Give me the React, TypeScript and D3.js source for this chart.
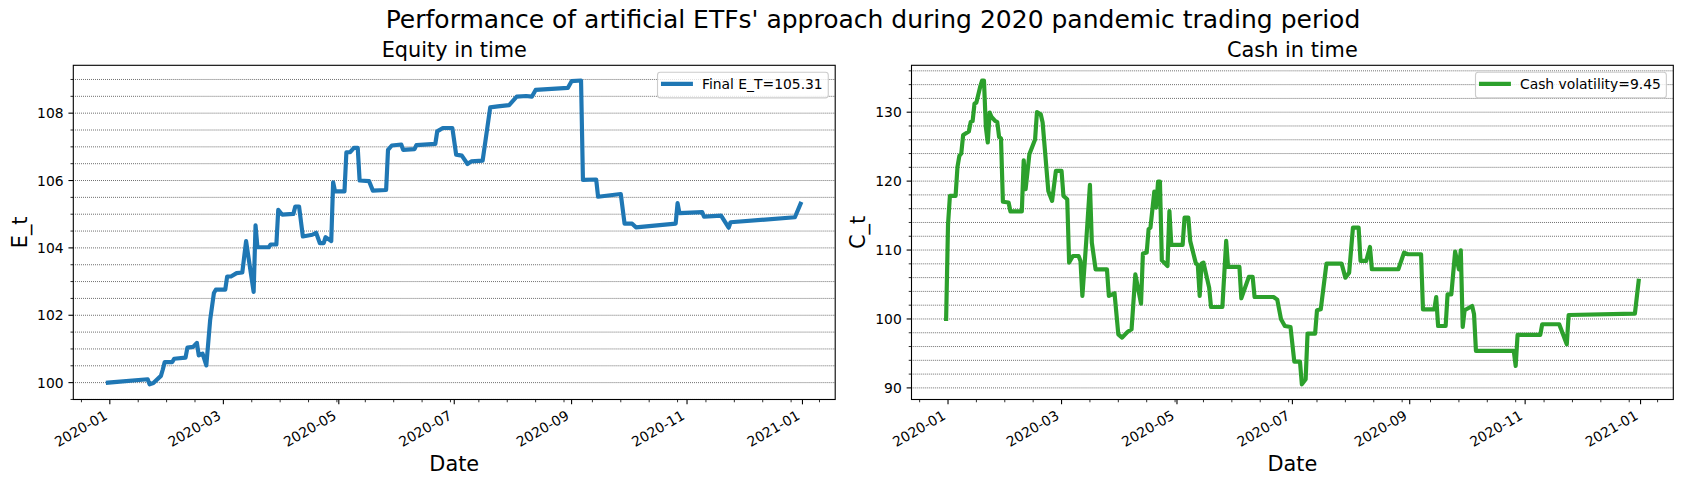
import React from 'react';
import * as d3 from 'd3';

// ---------- data ----------
const equityDates = [
  "2019-12-31","2020-01-21","2020-01-22","2020-01-24","2020-01-28","2020-01-29","2020-01-30","2020-02-03",
  "2020-02-04","2020-02-10","2020-02-11","2020-02-14","2020-02-16","2020-02-17","2020-02-19","2020-02-21",
  "2020-02-23","2020-02-25","2020-02-26","2020-03-02","2020-03-03","2020-03-05","2020-03-08","2020-03-11",
  "2020-03-13","2020-03-17","2020-03-18","2020-03-19","2020-03-25","2020-03-26","2020-03-29","2020-03-30",
  "2020-04-01","2020-04-07","2020-04-08","2020-04-10","2020-04-12","2020-04-17","2020-04-19","2020-04-21",
  "2020-04-23","2020-04-24","2020-04-27","2020-04-28","2020-04-29","2020-05-04","2020-05-05","2020-05-07",
  "2020-05-09","2020-05-11","2020-05-12","2020-05-17","2020-05-19","2020-05-26","2020-05-27","2020-05-29",
  "2020-06-03","2020-06-04","2020-06-10","2020-06-11","2020-06-21","2020-06-22","2020-06-25","2020-06-30",
  "2020-07-02","2020-07-05","2020-07-08","2020-07-10","2020-07-16","2020-07-20","2020-07-24","2020-07-30",
  "2020-08-03","2020-08-08","2020-08-11","2020-08-13","2020-08-30","2020-09-01","2020-09-06","2020-09-07",
  "2020-09-14","2020-09-15","2020-09-27","2020-09-29","2020-10-03","2020-10-05","2020-10-26","2020-10-27",
  "2020-10-28","2020-11-09","2020-11-10","2020-11-19","2020-11-23","2020-11-24","2020-12-28","2020-12-31"
];
const equityValues = [
  100.00,100.10,99.95,99.99,100.20,100.39,100.61,100.61,
  100.71,100.74,101.04,101.06,101.18,100.81,100.86,100.51,
  101.85,102.66,102.76,102.76,103.15,103.15,103.25,103.27,
  104.20,102.69,104.67,104.02,104.02,104.10,104.10,105.13,
  104.99,105.01,105.23,105.23,104.34,104.39,104.45,104.14,
  104.14,104.32,104.20,105.95,105.68,105.68,106.84,106.84,
  106.97,106.97,106.00,105.98,105.70,105.72,106.91,107.04,
  107.07,106.91,106.93,107.05,107.09,107.46,107.56,107.56,
  106.77,106.74,106.49,106.57,106.59,108.17,108.20,108.24,
  108.49,108.51,108.49,108.69,108.75,108.95,108.97,106.02,
  106.03,105.52,105.60,104.72,104.72,104.61,104.72,105.33,
  105.03,105.06,104.93,104.96,104.60,104.76,104.91,105.31
];

const cashDates = [
  "2019-12-31","2020-01-01","2020-01-02","2020-01-05","2020-01-06","2020-01-07","2020-01-08","2020-01-09",
  "2020-01-12","2020-01-13","2020-01-14","2020-01-15","2020-01-16","2020-01-18","2020-01-19","2020-01-20",
  "2020-01-21","2020-01-22","2020-01-23","2020-01-24","2020-01-26","2020-01-27","2020-01-28","2020-01-29",
  "2020-01-30","2020-02-02","2020-02-03","2020-02-09","2020-02-10","2020-02-11","2020-02-13","2020-02-16",
  "2020-02-17","2020-02-19","2020-02-20","2020-02-23","2020-02-25","2020-02-27","2020-03-01","2020-03-02",
  "2020-03-04","2020-03-05","2020-03-07","2020-03-10","2020-03-11","2020-03-12","2020-03-14","2020-03-16",
  "2020-03-17","2020-03-19","2020-03-25","2020-03-26","2020-03-29","2020-03-31","2020-04-02","2020-04-05",
  "2020-04-07","2020-04-09","2020-04-12","2020-04-13","2020-04-15","2020-04-16","2020-04-17","2020-04-19",
  "2020-04-20","2020-04-21","2020-04-22","2020-04-23","2020-04-26","2020-04-27","2020-04-28","2020-05-04",
  "2020-05-05","2020-05-07","2020-05-08","2020-05-11","2020-05-12","2020-05-13","2020-05-14","2020-05-15",
  "2020-05-18","2020-05-19","2020-05-25","2020-05-27","2020-05-28","2020-06-03","2020-06-04","2020-06-08",
  "2020-06-10","2020-06-11","2020-06-21","2020-06-23","2020-06-25","2020-06-27","2020-06-30","2020-07-02",
  "2020-07-05","2020-07-06","2020-07-08","2020-07-09","2020-07-13","2020-07-14","2020-07-16","2020-07-19",
  "2020-07-27","2020-07-29","2020-07-31","2020-08-02","2020-08-05","2020-08-06","2020-08-09","2020-08-11",
  "2020-08-12","2020-08-26","2020-08-29","2020-08-31","2020-09-07","2020-09-08","2020-09-14","2020-09-15",
  "2020-09-16","2020-09-20","2020-09-21","2020-09-23","2020-09-25","2020-09-27","2020-09-28","2020-09-29",
  "2020-09-30","2020-10-04","2020-10-05","2020-10-06","2020-10-26","2020-10-27","2020-10-28","2020-11-09",
  "2020-11-10","2020-11-19","2020-11-23","2020-11-24","2020-12-29","2020-12-31"
];
const cashValues = [
  100.00,113.70,117.85,117.85,122.06,123.66,124.00,126.70,
  127.20,128.60,128.70,131.25,131.40,133.70,134.60,134.60,
  127.80,125.60,129.95,129.30,128.70,128.60,126.40,126.20,
  117.00,116.90,115.60,115.60,123.03,118.82,123.90,126.03,
  130.00,129.70,128.50,118.58,117.13,121.48,121.48,117.85,
  117.37,108.18,109.14,109.14,108.42,103.34,111.08,119.45,
  111.08,107.20,107.20,103.34,103.73,97.77,97.29,98.16,
  98.50,106.48,102.23,109.48,109.63,113.00,113.26,118.48,
  116.16,119.93,119.93,108.50,107.69,115.67,110.74,110.74,
  114.71,114.71,111.32,108.03,107.90,103.34,108.03,108.18,
  104.55,101.74,101.74,111.32,107.55,107.55,103.00,106.10,
  106.10,103.19,103.19,102.80,99.95,98.98,98.84,93.81,
  93.81,90.52,91.24,97.87,97.87,101.26,101.40,108.03,
  108.03,106.00,106.72,113.26,113.26,108.42,108.42,110.45,
  107.21,107.21,109.63,109.39,109.39,101.40,101.40,103.19,
  98.98,98.98,103.58,103.58,109.77,107.21,109.97,98.84,
  101.26,101.89,100.68,95.36,95.36,93.18,97.68,97.68,
  99.23,99.23,96.32,100.58,100.77,105.52
];

const xTickLabels = ["2020-01","2020-03","2020-05","2020-07","2020-09","2020-11","2021-01"];
const equityYTicks = [100, 102, 104, 106, 108];
const cashYTicks = [90, 100, 110, 120, 130];

// ---------- layout ----------
const W = 1682, H = 486;
const FONT = '"DejaVu Sans", sans-serif';
const FS_TICK = 13.89, FS_LABEL = 20.83, FS_SUP = 25;
const Y0 = 65.3, Y1 = 399.5;
const MAJ = 4.86, MIN = 2.78;

let ctx: CanvasRenderingContext2D | null = null;
function measure(text: string, size: number) {
  if (!ctx) ctx = document.createElement('canvas').getContext('2d');
  if (!ctx) return text.length * size * 0.55;
  ctx.font = `${size}px "DejaVu Sans"`;
  return ctx.measureText(text).width;
}

const parseDay = d3.utcParse('%Y-%m-%d');
const parseMonth = d3.utcParse('%Y-%m');

type PanelProps = {
  dates: string[]; values: number[]; color: string; yTicks: number[]; minorStep: number;
  title: string; ylabel: string; legend: string; x0: number; x1: number;
};

function Panel({ dates, values, color, yTicks, minorStep, title, ylabel, legend, x0, x1 }: PanelProps) {
  const pts = dates.map((d, i) => ({ t: parseDay(d) as Date, v: values[i] }));
  const [tmin, tmax] = d3.extent(pts, p => p.t) as [Date, Date];
  const tpad = (+tmax - +tmin) * 0.05;
  const x = d3.scaleUtc().domain([new Date(+tmin - tpad), new Date(+tmax + tpad)]).range([x0, x1]);
  const [vmin, vmax] = d3.extent(pts, p => p.v) as [number, number];
  const vpad = (vmax - vmin) * 0.05;
  const y = d3.scaleLinear().domain([vmin - vpad, vmax + vpad]).range([Y1, Y0]);
  const [dlo, dhi] = y.domain();

  const gridVals = d3.range(Math.ceil(dlo / minorStep), Math.floor(dhi / minorStep) + 1).map(k => +(k * minorStep).toFixed(6));
  const minorY = gridVals.filter(v => !yTicks.some(t => Math.abs(t - v) < 1e-6));

  const majorX = xTickLabels.map(s => parseMonth(s) as Date);
  const [xd0, xd1] = x.domain();
  const base = Date.UTC(2020, 0, 1);
  const minorX: Date[] = [];
  for (let k = -5; k < 40; k++) {
    const t = new Date(base + k * 15 * 86400000);
    if (t >= xd0 && t <= xd1 && !majorX.some(m => +m === +t)) minorX.push(t);
  }

  const line = d3.line<{ t: Date; v: number }>().x(p => x(p.t)).y(p => y(p.v));
  const cx = (x0 + x1) / 2;
  const cy = (Y0 + Y1) / 2;

  // legend
  const tw = measure(legend, FS_TICK);
  const bpad = 0.4 * FS_TICK, hl = 2 * FS_TICK, htp = 0.8 * FS_TICK, bap = 0.5 * FS_TICK;
  const boxR = x1 - bap;
  const boxW = bpad + hl + htp + tw + bpad;
  const boxL = boxR - boxW;
  const boxT = Y0 + bap;
  const boxH = 25.6;
  const baseY = boxT + bpad + 11.6;

  return (
    <g>
      {gridVals.map(v => (
        <line key={'g' + v} x1={x0} x2={x1} y1={y(v)} y2={y(v)} stroke="#000" strokeWidth={0.75} strokeDasharray="0.75,1.24" />
      ))}
      <path d={line(pts) || ''} fill="none" stroke={color} strokeWidth={4.17} strokeLinejoin="round" strokeLinecap="square" />
      <rect x={x0} y={Y0} width={x1 - x0} height={Y1 - Y0} fill="none" stroke="#000" strokeWidth={1.1} />
      {/* y ticks */}
      {yTicks.map(v => (
        <g key={'yt' + v}>
          <line x1={x0 - MAJ} x2={x0} y1={y(v)} y2={y(v)} stroke="#000" strokeWidth={1.1} />
          <text x={x0 - 2 * MAJ} y={y(v) + 5.06} textAnchor="end" fontSize={FS_TICK} fontFamily={FONT}>{v}</text>
        </g>
      ))}
      {minorY.map(v => (
        <line key={'ym' + v} x1={x0 - MIN} x2={x0} y1={y(v)} y2={y(v)} stroke="#000" strokeWidth={0.83} />
      ))}
      {/* x ticks */}
      {majorX.map((t, i) => (
        <g key={'xt' + i}>
          <line x1={x(t)} x2={x(t)} y1={Y1} y2={Y1 + MAJ} stroke="#000" strokeWidth={1.1} />
          <text transform={`translate(${x(t) - 1.45},${Y1 + 2 * MAJ + 9.15}) rotate(-30)`} textAnchor="end" fontSize={FS_TICK} fontFamily={FONT}>{xTickLabels[i]}</text>
        </g>
      ))}
      {minorX.map((t, i) => (
        <line key={'xm' + i} x1={x(t)} x2={x(t)} y1={Y1} y2={Y1 + MIN} stroke="#000" strokeWidth={0.83} />
      ))}
      {/* labels */}
      <text x={cx} y={Y0 - 8.33} textAnchor="middle" fontSize={FS_LABEL} fontFamily={FONT}>{title}</text>
      <text x={cx} y={471.4} textAnchor="middle" fontSize={FS_LABEL} fontFamily={FONT}>Date</text>
      <text transform={`translate(${x0 - 46.7},${cy}) rotate(-90)`} textAnchor="middle" fontSize={FS_LABEL} fontFamily={FONT}>{ylabel}</text>
      {/* legend */}
      <rect x={boxL} y={boxT} width={boxW} height={boxH} rx={2.8} ry={2.8} fill="#fff" fillOpacity={0.8} stroke="#ccc" strokeWidth={1.1} />
      <line x1={boxL + bpad} x2={boxL + bpad + hl} y1={baseY - 5.5} y2={baseY - 5.5} stroke={color} strokeWidth={4.17} strokeLinecap="square" />
      <text x={boxL + bpad + hl + htp} y={baseY} fontSize={FS_TICK} fontFamily={FONT}>{legend}</text>
    </g>
  );
}

export default function App() {
  return (
    <svg width={W} height={H} viewBox={`0 0 ${W} ${H}`} style={{ position: 'absolute', left: 0, top: 0, background: '#fff' }}>
      <rect x={0} y={0} width={W} height={H} fill="#fff" />
      <text x={873} y={28.4} textAnchor="middle" fontSize={FS_SUP} fontFamily={FONT}>
        Performance of artificial ETFs' approach during 2020 pandemic trading period
      </text>
      <Panel dates={equityDates} values={equityValues} color="#1f77b4" yTicks={equityYTicks} minorStep={0.5}
        title="Equity in time" ylabel="E_t" legend="Final E_T=105.31" x0={73.3} x1={835.2} />
      <Panel dates={cashDates} values={cashValues} color="#2ca02c" yTicks={cashYTicks} minorStep={2}
        title="Cash in time" ylabel="C_t" legend="Cash volatility=9.45" x0={911.5} x1={1673.3} />
    </svg>
  );
}
